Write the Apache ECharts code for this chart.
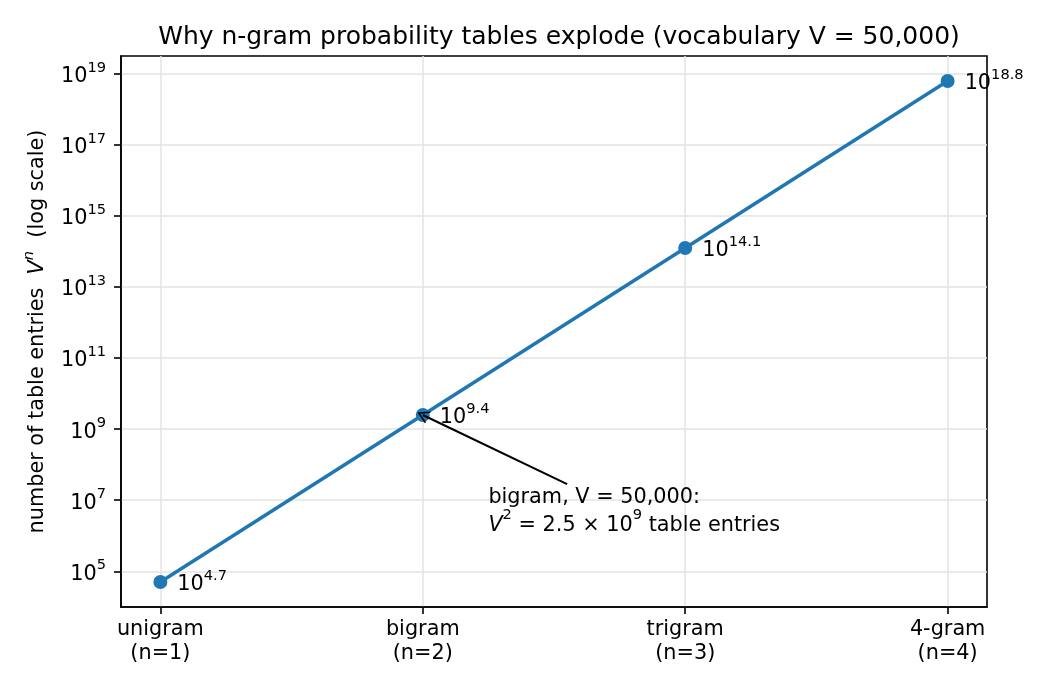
<!DOCTYPE html>
<html>
<head>
<meta charset="utf-8">
<script src="https://cdn.jsdelivr.net/npm/echarts@6/dist/echarts.min.js"></script>
<style>
  html, body { margin: 0; padding: 0; background: #fff; }
  #chart { width: 1050px; height: 690px; }
</style>
</head>
<body>
<div id="chart"></div>
<script>
// n-gram order and table size V^n for V = 50,000
const categories = ['unigram', 'bigram', 'trigram', '4-gram'];
const nValues = [1, 2, 3, 4];
const tableEntries = [5e4, 2.5e9, 1.25e14, 6.25e18];
const exponentLabels = ['4.7', '9.4', '14.1', '18.8'];
const yTickExponents = [5, 7, 9, 11, 13, 15, 17, 19];

// annotation anchors (data coords, like matplotlib xytext)
const annotText = [2.25, 1e6];
const annotArrowTail = [2.55, Math.pow(10, 7.45)];

const FONT = 'DejaVu Sans';
const BLUE = '#1f77b4';
const FS = 20.8;   // 10pt @ 150dpi
const SUP = 14.6;

const yTicks = yTickExponents.map(e => Math.pow(10, e));

const supRich = {
    b: {fontSize: FS, lineHeight: 27, verticalAlign: 'bottom', color: '#000', fontFamily: FONT},
    s: {fontSize: SUP, lineHeight: 17, verticalAlign: 'top', color: '#000', fontFamily: FONT}
};

const chart = echarts.init(document.getElementById('chart'));

chart.setOption({
    animation: false,
    textStyle: {fontFamily: FONT},
    title: {
        text: 'Why n-gram probability tables explode (vocabulary V = 50,000)',
        left: 554,
        textAlign: 'center',
        top: 20,
        textStyle: {fontFamily: FONT, fontSize: 25, fontWeight: 'normal', color: '#000'}
    },
    grid: {
        left: 121, right: 63, top: 56, bottom: 83,
        show: true, borderColor: '#000', borderWidth: 1.6, backgroundColor: 'transparent'
    },
    xAxis: {
        type: 'value',
        min: 0.85,
        max: 4.15,
        axisLine: {show: true, lineStyle: {color: '#000', width: 1.6}},
        axisTick: {show: true, customValues: nValues, length: 7, lineStyle: {color: '#000', width: 1.6}},
        splitLine: {show: true, lineStyle: {color: '#e3e3e3', width: 1.5}},
        axisLabel: {
            customValues: nValues,
            margin: 11,
            fontSize: FS,
            lineHeight: 24,
            color: '#000',
            formatter: v => {
                const i = nValues.indexOf(Math.round(v));
                return i < 0 ? '' : categories[i] + '\n(n=' + nValues[i] + ')';
            }
        }
    },
    yAxis: {
        type: 'log',
        logBase: 10,
        min: Math.pow(10, 3.994),
        max: Math.pow(10, 19.5007),
        axisLine: {show: true, lineStyle: {color: '#000', width: 1.6}},
        axisTick: {show: true, customValues: yTicks, length: 7, lineStyle: {color: '#000', width: 1.6}},
        splitLine: {show: true, lineStyle: {color: '#e3e3e3', width: 1.5}},
        axisLabel: {
            customValues: yTicks,
            margin: 15,
            color: '#000',
            formatter: v => '{b|10}{s|' + Math.round(Math.log10(v)) + '}',
            rich: supRich
        },
        name: '{t|number of table entries  }{v|V}{n|n}{t|  (log scale)}',
        nameLocation: 'middle',
        nameGap: 73,
        nameTextStyle: {
            rich: {
                t: {fontSize: FS, lineHeight: 26, verticalAlign: 'bottom', color: '#000', fontFamily: FONT},
                v: {fontSize: FS, lineHeight: 26, verticalAlign: 'bottom', fontStyle: 'italic', color: '#000', fontFamily: FONT},
                n: {fontSize: SUP, lineHeight: 16, verticalAlign: 'top', fontStyle: 'italic', color: '#000', fontFamily: FONT}
            }
        }
    },
    series: [
        {
            type: 'line',
            data: nValues.map((n, i) => [n, tableEntries[i]]),
            symbol: 'circle',
            symbolSize: 14,
            itemStyle: {color: BLUE},
            lineStyle: {color: BLUE, width: 3.5},
            z: 3,
            label: {
                show: true,
                position: 'right',
                distance: 10,
                color: '#000',
                formatter: p => '{b|10}{s|' + exponentLabels[p.dataIndex] + '}',
                rich: supRich
            }
        },
        {
            type: 'scatter',
            data: [annotText],
            symbolSize: 0,
            silent: true,
            z: 4,
            label: {
                show: true,
                position: [0, 0],
                align: 'left',
                verticalAlign: 'bottom',
                color: '#000',
                opacity: 1,
                formatter: '{t|bigram, V = 50,000:}\n{i|V}{s|2}{t| = 2.5 × 10}{s|9}{t| table entries}',
                rich: {
                    t: {fontSize: FS, lineHeight: 28, verticalAlign: 'bottom', color: '#000', fontFamily: FONT},
                    i: {fontSize: FS, lineHeight: 28, verticalAlign: 'bottom', fontStyle: 'italic', color: '#000', fontFamily: FONT},
                    s: {fontSize: SUP, lineHeight: 19, verticalAlign: 'top', color: '#000', fontFamily: FONT}
                }
            },
            itemStyle: {opacity: 1},
            markLine: {
                silent: true,
                symbol: ['none', 'path://M0,12 L6,0 L12,12 L10.6,12.6 L6,3.2 L1.4,12.6 Z'],
                symbolSize: [13, 12],
                symbolOffset: [0, 0],
                label: {show: false},
                lineStyle: {color: '#000', width: 2, type: 'solid', opacity: 1},
                data: [[
                    {coord: annotArrowTail},
                    {coord: [nValues[1], tableEntries[1]]}
                ]]
            }
        }
    ]
});
</script>
</body>
</html>
